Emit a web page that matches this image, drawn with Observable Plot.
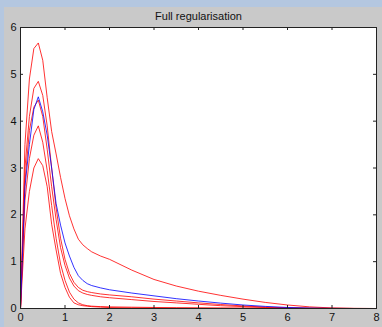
<!DOCTYPE html>
<html>
<head>
<meta charset="utf-8">
<script src="https://cdn.jsdelivr.net/npm/d3@7"></script>
<script src="https://cdn.jsdelivr.net/npm/@observablehq/plot@0.6"></script>
<style>
  html, body { margin: 0; padding: 0; width: 382px; height: 327px; overflow: hidden; background: #c9c9c9; }
  #wrap { position: relative; width: 382px; height: 327px; }
  #topbar { position: absolute; left: 0; top: 0; width: 382px; height: 7px; background: #b4c7e0; }
  #leftbar { position: absolute; left: 0; top: 0; width: 4px; height: 327px; background: #b4c7e0; }
  #chart { position: absolute; left: 0; top: 0; }
</style>
</head>
<body>
<div id="wrap">
  <div id="topbar"></div>
  <div id="leftbar"></div>
  <div id="chart"></div>
</div>
<script>
const title = "Full regularisation";
const xTicks = [0, 1, 2, 3, 4, 5, 6, 7, 8];
const yTicks = [0, 1, 2, 3, 4, 5, 6];

const xs = [0,0.1,0.2,0.3,0.4,0.5,0.6,0.7,0.8,0.9,1.0,1.1,1.2,1.3,1.4,1.5,1.6,1.8,2.0,2.5,3,3.5,4,4.5,5,5.5,6,6.5,7,7.5,8];

const red1 = [0,3.5,4.9,5.55,5.67,5.3,4.5,3.78,3.3,2.8,2.35,1.98,1.7,1.48,1.36,1.28,1.21,1.12,1.05,0.82,0.62,0.48,0.37,0.28,0.2,0.13,0.075,0.035,0.012,0.003,0];
const blue = [0,2.6,3.5,4.25,4.52,4.2,3.7,3.0,2.24,1.78,1.4,1.12,0.88,0.7,0.6,0.53,0.49,0.44,0.4,0.33,0.27,0.21,0.16,0.115,0.075,0.045,0.022,0.009,0.002,0,0];
const red2 = [0,3.0,4.1,4.7,4.85,4.55,3.9,3.0,2.15,1.5,1.05,0.75,0.56,0.45,0.39,0.36,0.34,0.31,0.29,0.25,0.2,0.16,0.12,0.085,0.055,0.03,0.015,0.006,0.002,0,0];
const red3 = [0,2.7,3.8,4.3,4.45,4.1,3.4,2.6,1.9,1.3,0.92,0.65,0.48,0.38,0.33,0.3,0.28,0.25,0.23,0.19,0.15,0.12,0.09,0.06,0.04,0.022,0.01,0.004,0.001,0,0];
const red4 = [0,2.3,3.2,3.7,3.9,3.55,2.95,2.2,1.5,0.95,0.6,0.35,0.2,0.12,0.08,0.06,0.05,0.04,0.035,0.028,0.022,0.018,0.015,0.012,0.01,0.008,0.005,0.003,0.002,0.001,0];
const red5 = [0,1.7,2.5,3.0,3.2,3.05,2.6,1.8,1.25,0.75,0.45,0.24,0.12,0.08,0.06,0.05,0.04,0.03,0.02,0.012,0.008,0.005,0.004,0.003,0.002,0.002,0.001,0.001,0,0,0];

const reds = [red1, red2, red3, red4, red5];

const rows = [];
reds.forEach((s, k) => s.forEach((v, i) => rows.push({series: "r" + k, color: "red", x: xs[i], y: v})));
blue.forEach((v, i) => rows.push({series: "b", color: "blue", x: xs[i], y: v}));

const W = 382, H = 327;
const mL = 20, mR = 6, mT = 27, mB = 19;
const plotW = W - mL - mR, plotH = H - mT - mB;
const tickLen = 3;
const innerX = xTicks.slice(1, -1);
const innerY = yTicks.slice(1, -1);

const chart = Plot.plot({
  width: W,
  height: H,
  marginLeft: mL,
  marginRight: mR,
  marginTop: mT,
  marginBottom: mB,
  style: {background: "transparent", fontFamily: "'Liberation Sans', Arial, sans-serif", fontSize: "11px", color: "#111"},
  x: {domain: [0, 8], ticks: xTicks},
  y: {domain: [0, 6], ticks: yTicks},
  marks: [
    Plot.frame({fill: "white", stroke: null}),
    Plot.line(rows.filter(d => d.color === "red"), {x: "x", y: "y", z: "series", stroke: "#ff0000", strokeWidth: 1, strokeOpacity: 0.8}),
    Plot.line(rows.filter(d => d.color === "blue"), {x: "x", y: "y", z: "series", stroke: "#0000ff", strokeWidth: 1, strokeOpacity: 0.8}),
    Plot.tickX(innerX, {x: d => d, insetTop: plotH - tickLen, stroke: "#222"}),
    Plot.tickX(innerX, {x: d => d, insetBottom: plotH - tickLen, stroke: "#222"}),
    Plot.tickY(innerY, {y: d => d, insetRight: plotW - tickLen, stroke: "#222"}),
    Plot.tickY(innerY, {y: d => d, insetLeft: plotW - tickLen, stroke: "#222"}),
    Plot.axisX({ticks: xTicks, tickSize: 0, tickPadding: 5, tickFormat: d => String(d), label: null}),
    Plot.axisY({ticks: yTicks, tickSize: 0, tickPadding: 4, tickFormat: d => String(d), label: null}),
    Plot.frame({stroke: "#222"}),
    Plot.text([title], {frameAnchor: "top", text: d => d, dy: -8, lineAnchor: "bottom", fontSize: 11, fill: "#111"})
  ]
});
document.getElementById("chart").appendChild(chart);
</script>
</body>
</html>
